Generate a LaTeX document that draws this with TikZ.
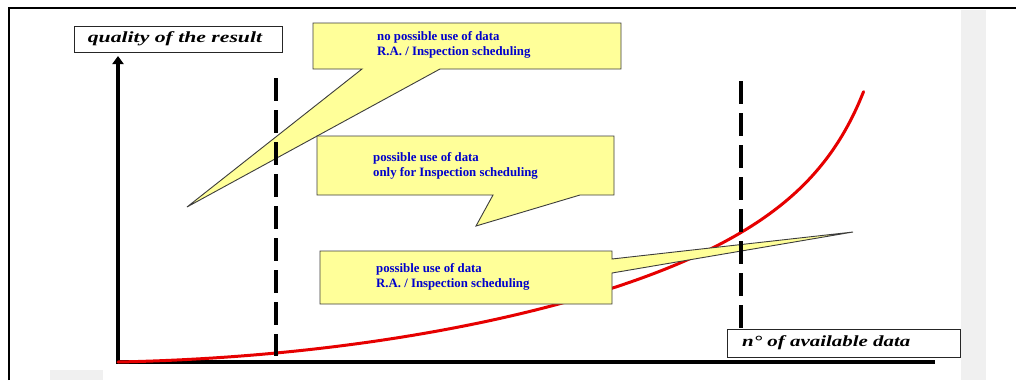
\documentclass[tikz,border=0pt]{standalone}
\usepackage{fontspec}
\setmainfont{Liberation Serif}
\usetikzlibrary{arrows.meta}
\definecolor{calloutyellow}{RGB}{255,255,153}
\definecolor{textblue}{RGB}{0,0,204}
\definecolor{curvered}{RGB}{230,0,0}
\definecolor{bandgrey}{RGB}{240,240,240}
\definecolor{edgegrey}{RGB}{60,60,60}
\begin{document}
\begin{tikzpicture}[x=1pt,y=-1pt,
  framestyle/.style={line width=2.5pt,black},
  labelbox/.style={draw=black!85,line width=0.9pt,fill=white,inner sep=0pt},
  axistext/.style={inner sep=0pt,font=\fontsize{15.5}{18}\selectfont\bfseries\itshape},
  axisline/.style={line width=3.5pt,black},
  redcurve/.style={line width=3pt,curvered,line cap=round},
  callout/.style={fill=calloutyellow,draw=edgegrey,line width=0.9pt,line join=miter},
  callouttext/.style={inner sep=0pt,anchor=north west,align=left,text=textblue,
    font=\fontsize{12.8}{15}\selectfont\bfseries},
  dashline/.style={line width=4pt,black,dash pattern=on 23pt off 9pt}
]
\useasboundingbox (0,0) rectangle (1016,380);
\fill[white] (0,0) rectangle (1016,380);
% grey bands
\fill[bandgrey] (961,10) rectangle (986,380);
\fill[bandgrey] (50,370) rectangle (103,380);
% frame
\draw[framestyle] (9,380) -- (9,8) -- (1016,8);
% axes
\coordinate (origin) at (118,362);
\coordinate (ytop) at (118,56);
\coordinate (xend) at (935,362);
\draw[axisline,-{Triangle[length=8pt,width=11pt]}] ([yshift=1.75pt]origin) -- (ytop);
\draw[axisline] ([xshift=-1.75pt]origin) -- (xend);
% red curve
\draw[redcurve] plot[domain=0:1,samples=150,smooth] ({118+747*\x},{362-110*\x*\x-19.03*(1/(1.105-\x)-0.90498)});
% callouts
\filldraw[callout] (313,23) -- (621,23) -- (621,69) -- (440,69) -- (187,207) -- (362,69) -- (313,69) -- cycle;
\filldraw[callout] (317,136) -- (614,136) -- (614,195) -- (580,195) -- (476,226) -- (493,195) -- (317,195) -- cycle;
\filldraw[callout] (320,251) -- (612,251) -- (612,259) -- (853,232) -- (612,273) -- (612,304) -- (320,304) -- cycle;
\node[callouttext] (t1) at (377,31) {no possible use of data\\R.A. / Inspection scheduling};
\node[callouttext] (t2) at (373,152) {possible use of data\\only for Inspection scheduling};
\node[callouttext] (t3) at (376,263) {possible use of data\\R.A. / Inspection scheduling};
% dashed limits
\coordinate (d1top) at (276,78);
\coordinate (d1bot) at (276,356);
\coordinate (d2top) at (741,81);
\coordinate (d2bot) at (741,358);
\draw[dashline] (d1top) -- (d1bot);
\draw[dashline] (d2top) -- (d2bot);
% axis labels
\node[labelbox,minimum width=208pt,minimum height=26pt] (ylab) at (178,39) {};
\node[axistext] (ylabtext) at (175,39) {\scalebox{1.4}[1]{quality of the result}};
\node[labelbox,minimum width=233pt,minimum height=28pt] (xlab) at (843.5,343) {};
\node[axistext,anchor=west] (xlabtext) at (742,343) {\scalebox{1.35}[1]{n° of available data}};
\end{tikzpicture}
\end{document}
